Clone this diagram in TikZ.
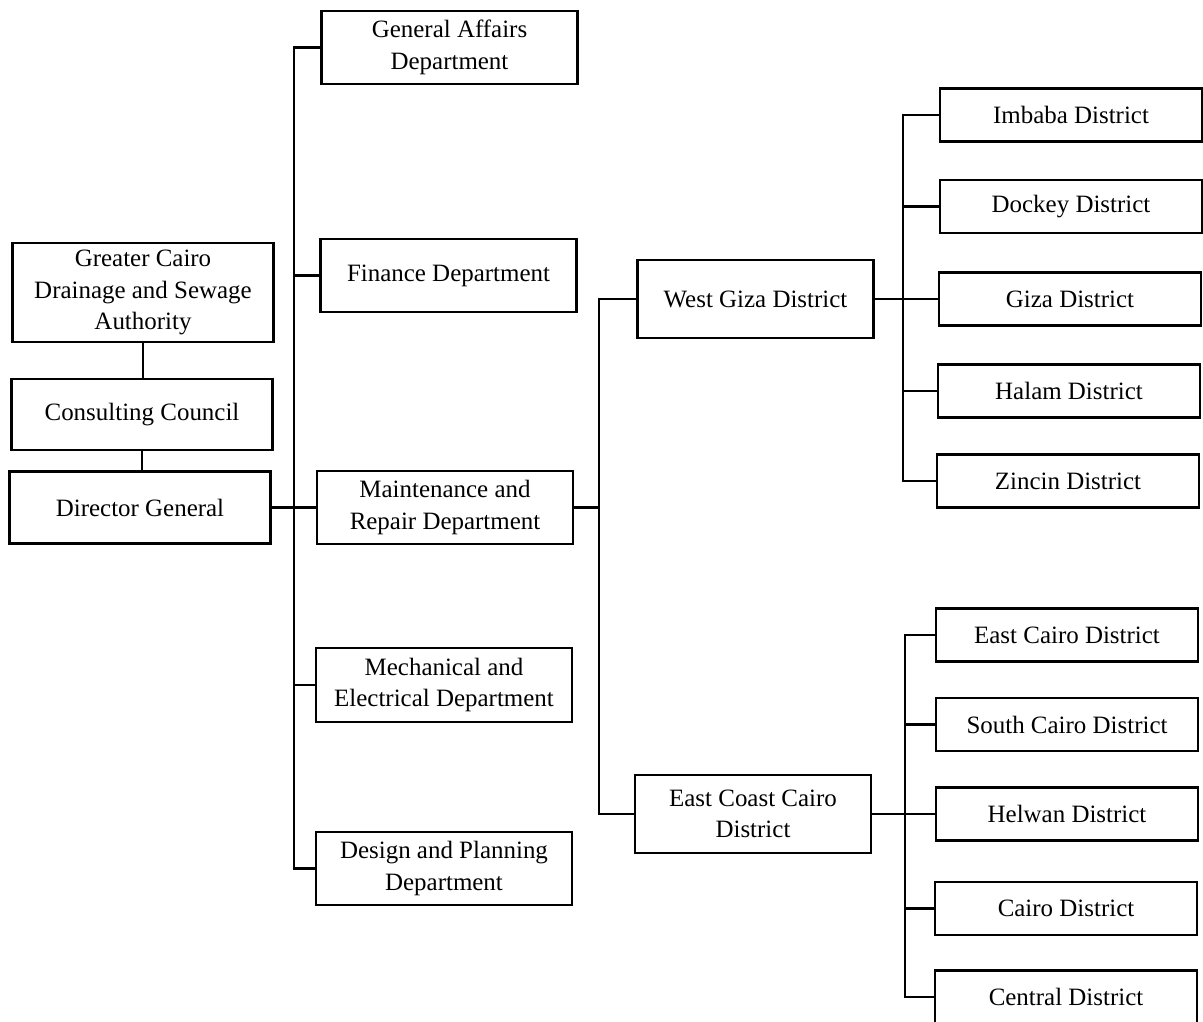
\documentclass[tikz,border=0pt]{standalone}
\usepackage{fontspec}
\setmainfont{Liberation Serif}
\usepackage{tikz}
\usetikzlibrary{calc}

\begin{document}
\begin{tikzpicture}[
  x=0.02cm, y=-0.02cm,
  font=\fontsize{14.2}{17.8}\selectfont,
  line width=1.2pt,
  box/.style={draw, align=center, inner sep=0pt},
  lft/.style={box, minimum width=5.22cm},
  dept/.style={box, minimum width=5.12cm, minimum height=1.47cm},
  mid/.style={box, minimum width=4.72cm, minimum height=1.55cm},
  dist/.style={box, minimum width=5.24cm, minimum height=1.06cm}
]
\useasboundingbox (0,0) rectangle (1203,1021);

% Authority column
\node[lft, minimum height=1.98cm] (gcdsa) at (143,292.5) {Greater Cairo\\Drainage and Sewage\\Authority};
\node[lft, minimum height=1.42cm] (council) at (142,414.5) {Consulting Council};
\node[lft, minimum height=1.44cm] (director) at (140,507.5) {Director General};

% Departments
\node[dept] (genaff)  at (449.5,47.5) {General Affairs\\Department};
\node[dept] (finance) at (448.5,275.5) {Finance Department};
\node[dept] (maint)   at (445,507.5) {Maintenance and\\Repair Department};
\node[dept] (mech)    at (444,685) {Mechanical and\\Electrical Department};
\node[dept] (design)  at (444,868.5) {Design and Planning\\Department};

% Main districts
\node[mid] (westgiza)  at (755.5,299) {West Giza District};
\node[mid] (eastcoast) at (753,814) {East Coast Cairo\\District};

% West Giza districts
\node[dist] (imbaba) at (1071,115) {Imbaba District};
\node[dist] (dockey) at (1071,206.5) {Dockey District};
\node[dist] (giza)   at (1070,299) {Giza District};
\node[dist] (halam)  at (1069,391) {Halam District};
\node[dist] (zincin) at (1068,481) {Zincin District};

% East Coast districts
\node[dist] (eastcairo)  at (1067,635) {East Cairo District};
\node[dist] (southcairo) at (1067,724.5) {South Cairo District};
\node[dist] (helwan)     at (1067,814) {Helwan District};
\node[dist] (cairo)      at (1066,908.5) {Cairo District};
\node[dist] (central)    at (1066,997) {Central District};

% Trunk lines
\coordinate (trunkA) at (294,0);
\coordinate (trunkB) at (599,0);
\coordinate (trunkC) at (903,0);
\coordinate (trunkD) at (905,0);

\draw (gcdsa.south) -- (gcdsa.south |- council.north);
\draw (council.south) -- (council.south |- director.north);
\draw (director.east) -- (maint.west);

\draw (genaff.west) -| (trunkA |- design.west) -- (design.west);
\foreach \n in {finance,maint,mech}
  \draw (\n.west) -- (trunkA |- \n.west);

\draw (maint.east) -- (trunkB |- maint.east);
\draw (westgiza.west) -| (trunkB |- eastcoast.west) -- (eastcoast.west);

\draw (westgiza.east) -- (giza.west);
\draw (imbaba.west) -| (trunkC |- zincin.west) -- (zincin.west);
\foreach \n in {dockey,halam}
  \draw (\n.west) -- (trunkC |- \n.west);

\draw (eastcoast.east) -- (helwan.west);
\draw (eastcairo.west) -| (trunkD |- central.west) -- (central.west);
\foreach \n in {southcairo,cairo}
  \draw (\n.west) -- (trunkD |- \n.west);
\end{tikzpicture}
\end{document}
